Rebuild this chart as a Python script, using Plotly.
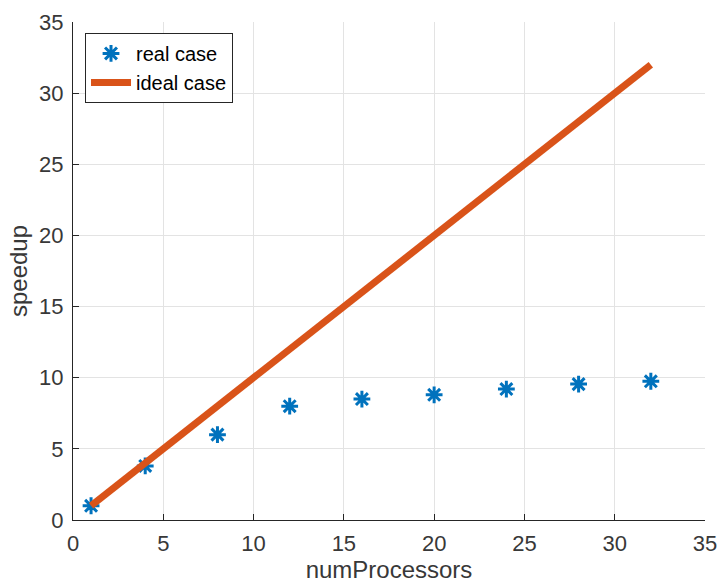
import plotly.graph_objects as go

num_processors = [1, 4, 8, 12, 16, 20, 24, 28, 32]
real_speedup = [1.0, 3.8, 6.0, 8.0, 8.5, 8.8, 9.2, 9.55, 9.75]
ideal_x = [1, 32]
ideal_speedup = [1, 32]
tick_vals = [0, 5, 10, 15, 20, 25, 30, 35]

FONT = "Liberation Sans"
TXT = "#383838"

fig = go.Figure()
fig.add_trace(go.Scatter(
    x=num_processors, y=real_speedup, mode="markers", name="real case",
    marker=dict(symbol="asterisk-open", size=14, color="#0072BD",
                line=dict(color="#0072BD", width=3)),
))
fig.add_trace(go.Scatter(
    x=ideal_x, y=ideal_speedup, mode="lines", name="ideal case",
    line=dict(color="#D95319", width=7),
))

axis_common = dict(
    range=[0, 35], tickvals=tick_vals, showgrid=True, gridcolor="#e3e3e3",
    gridwidth=1, showline=True, linecolor="#262626", linewidth=1,
    ticks="inside", ticklen=6, tickcolor="#262626", zeroline=False,
    tickfont=dict(family=FONT, size=22, color=TXT),
    mirror=False, automargin=False,
)
fig.update_xaxes(**axis_common, ticklabelstandoff=4,
                 title=dict(text="numProcessors", standoff=4,
                            font=dict(family=FONT, size=24, color=TXT)))
fig.update_yaxes(**axis_common, ticklabelstandoff=4,
                 title=dict(text="speedup", standoff=4,
                            font=dict(family=FONT, size=24, color=TXT)))

fig.update_layout(
    width=720, height=588, plot_bgcolor="white", paper_bgcolor="white",
    margin=dict(l=73, r=15, t=22, b=68),
    showlegend=True,
    legend=dict(x=0.019, y=0.978, xanchor="left", yanchor="top",
                bgcolor="white", bordercolor="#262626", borderwidth=1,
                font=dict(family=FONT, size=20, color="#000000"),
                tracegroupgap=0, itemwidth=40),
)

fig.write_html("out.html")
